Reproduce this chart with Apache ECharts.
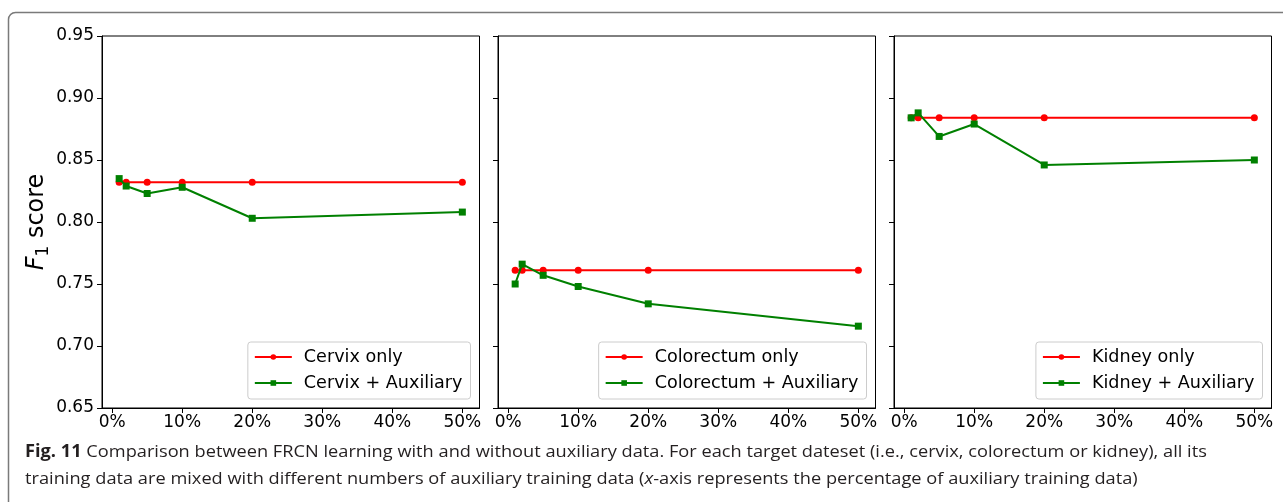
<!DOCTYPE html>
<html>
<head>
<meta charset="utf-8">
<title>F1 score vs. auxiliary training data</title>
<script src="https://cdn.jsdelivr.net/npm/echarts@6/dist/echarts.min.js"></script>
<style>
  html, body { margin: 0; padding: 0; background: #fff; }
  #chart { width: 1283px; height: 502px; }
</style>
</head>
<body>
<div id="chart"></div>
<script>
// Percentage of auxiliary training data mixed in (x values)
const auxPercent = [1, 2, 5, 10, 20, 50];

// F1 scores per target dataset
const cervixOnly = [0.832, 0.832, 0.832, 0.832, 0.832, 0.832];
const cervixAux = [0.835, 0.829, 0.823, 0.828, 0.803, 0.808];
const colorectumOnly = [0.761, 0.761, 0.761, 0.761, 0.761, 0.761];
const colorectumAux = [0.750, 0.766, 0.757, 0.748, 0.734, 0.716];
const kidneyOnly = [0.884, 0.884, 0.884, 0.884, 0.884, 0.884];
const kidneyAux = [0.884, 0.888, 0.869, 0.879, 0.846, 0.850];

// Axis ticks
const xTicks = [0, 10, 20, 30, 40, 50];
const yTicks = [0.65, 0.70, 0.75, 0.80, 0.85, 0.90, 0.95];

const panels = [
  { only: 'Cervix only', aux: 'Cervix + Auxiliary', onlyVals: cervixOnly, auxVals: cervixAux },
  { only: 'Colorectum only', aux: 'Colorectum + Auxiliary', onlyVals: colorectumOnly, auxVals: colorectumAux },
  { only: 'Kidney only', aux: 'Kidney + Auxiliary', onlyVals: kidneyOnly, auxVals: kidneyAux }
];

const RED = '#ff0000';
const GREEN = '#008000';
const TICK_FONT = 'DejaVu Sans';

const gridLefts = [102, 498, 894];
const gridWidth = 377.5;
const gridTop = 36;
const gridHeight = 372;

const pairs = vals => auxPercent.map((x, i) => [x, vals[i]]);

const grids = gridLefts.map(l => ({
  left: l, top: gridTop, width: gridWidth, height: gridHeight,
  show: true, borderColor: '#000', borderWidth: 1, backgroundColor: 'transparent',
  outerBoundsMode: 'none', containLabel: false
}));

const xAxes = gridLefts.map((l, i) => ({
  type: 'value', gridIndex: i,
  min: -1.45, max: 52.45,
  splitLine: { show: false },
  axisLine: { show: true, onZero: false, lineStyle: { color: '#000', width: 1 } },
  axisTick: { show: true, inside: false, length: 5, customValues: xTicks, lineStyle: { color: '#000' } },
  axisLabel: {
    show: true, customValues: xTicks, margin: 6,
    formatter: v => v + '%',
    fontFamily: TICK_FONT, fontSize: 17, color: '#000'
  }
}));

const yAxes = gridLefts.map((l, i) => ({
  type: 'value', gridIndex: i,
  min: 0.65, max: 0.95, interval: 0.05,
  splitLine: { show: false },
  axisLine: { show: true, onZero: false, lineStyle: { color: '#000', width: 1 } },
  axisTick: { show: true, inside: false, length: 5, customValues: yTicks, lineStyle: { color: '#000' } },
  axisLabel: {
    show: i === 0, customValues: yTicks, margin: 8,
    formatter: v => v.toFixed(2),
    fontFamily: TICK_FONT, fontSize: 17, color: '#000'
  },
  name: i === 0 ? '{f|F}{s|1}{t| score}' : '',
  nameLocation: 'middle',
  nameRotate: 90,
  nameGap: 44,
  nameTextStyle: {
    fontFamily: TICK_FONT,
    rich: {
      f: { fontFamily: TICK_FONT, fontStyle: 'italic', fontSize: 24, lineHeight: 30, color: '#000' },
      s: { fontFamily: TICK_FONT, fontSize: 17, lineHeight: 17, verticalAlign: 'bottom', color: '#000' },
      t: { fontFamily: TICK_FONT, fontSize: 24, lineHeight: 30, color: '#000' }
    }
  }
}));

const series = [];
panels.forEach((p, i) => {
  series.push({
    name: p.only, type: 'line', xAxisIndex: i, yAxisIndex: i,
    data: pairs(p.onlyVals),
    symbol: 'circle', symbolSize: 7, showAllSymbol: true,
    lineStyle: { color: RED, width: 2 },
    itemStyle: { color: RED },
    emphasis: { disabled: true }, animation: false, z: 2
  });
  series.push({
    name: p.aux, type: 'line', xAxisIndex: i, yAxisIndex: i,
    data: pairs(p.auxVals),
    symbol: 'rect', symbolSize: 7, showAllSymbol: true,
    lineStyle: { color: GREEN, width: 2 },
    itemStyle: { color: GREEN },
    emphasis: { disabled: true }, animation: false, z: 3
  });
});

const legends = panels.map((p, i) => ({
  data: [p.only, p.aux],
  orient: 'vertical',
  right: 1283 - (gridLefts[i] + gridWidth) + 9,
  top: 342,
  itemWidth: 37, itemHeight: 7, itemGap: 6,
  padding: [5, 8, 6, 6],
  borderColor: '#cccccc', borderWidth: 1, borderRadius: 3,
  backgroundColor: 'rgba(255,255,255,0.8)',
  selectedMode: false,
  textStyle: { fontFamily: TICK_FONT, fontSize: 17.6, lineHeight: 20, color: '#000', padding: [0, 0, 0, 7] }
}));

// Figure caption (slightly widened to the journal's caption measure)
const CAPTION_FONT = 'Open Sans';
const CAPTION_SIZE = 17.2;
const CAPTION_STRETCH = 1.06;
const captionLine1 = '{b|Fig. 11} Comparison between FRCN learning with and without auxiliary data. For each target dateset (i.e., cervix, colorectum or kidney), all its';
const captionLine2 = 'training data are mixed with different numbers of auxiliary training data ({i|x}-axis represents the percentage of auxiliary training data)';
const captionRich = {
  b: { fontFamily: CAPTION_FONT, fontWeight: 'bold', fontSize: CAPTION_SIZE, fill: '#231f20' },
  i: { fontFamily: CAPTION_FONT, fontStyle: 'italic', fontSize: CAPTION_SIZE, fill: '#231f20' }
};

const captionText = (text, y) => ({
  type: 'text', x: 25, y: y, scaleX: CAPTION_STRETCH, silent: true,
  style: {
    text: text, rich: captionRich, x: 0, y: 0,
    verticalAlign: 'top', align: 'left',
    fontFamily: CAPTION_FONT, fontSize: CAPTION_SIZE, fill: '#231f20'
  }
});

const option = {
  backgroundColor: '#fff',
  animation: false,
  grid: grids,
  xAxis: xAxes,
  yAxis: yAxes,
  legend: legends,
  series: series,
  graphic: [
    {
      type: 'rect', silent: true, z: -1,
      shape: { x: 8.5, y: 12.5, width: 1320, height: 540, r: 7 },
      style: { fill: 'none', stroke: '#7a7a7a', lineWidth: 1.5 }
    },
    captionText(captionLine1, 444),
    captionText(captionLine2, 471)
  ]
};

const chart = echarts.init(document.getElementById('chart'), null, { renderer: 'canvas' });
chart.setOption(option);
</script>
</body>
</html>
